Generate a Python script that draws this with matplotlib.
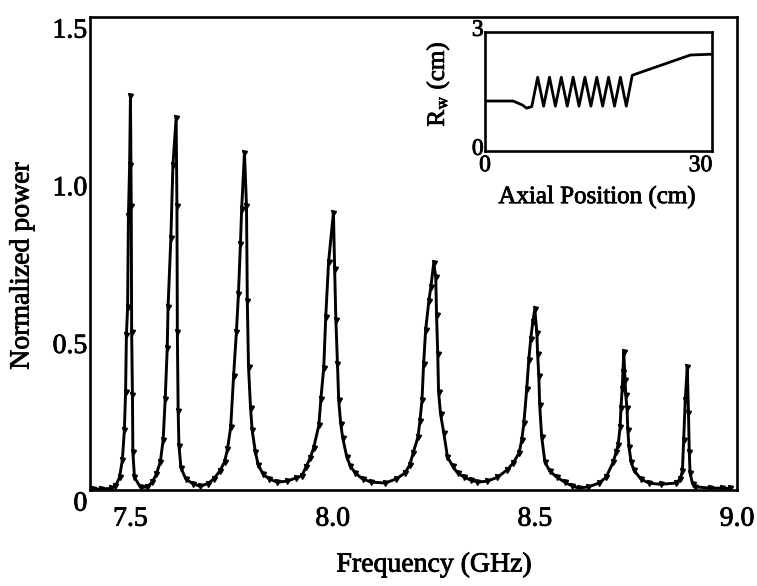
import matplotlib
matplotlib.use("Agg")
import matplotlib.pyplot as plt
import matplotlib.patheffects as pe
from matplotlib.transforms import ScaledTranslation

plt.rcParams["font.family"] = ["Liberation Serif", "DejaVu Serif"]
plt.rcParams["mathtext.fontset"] = "stix"

# main spectrum: frequency (GHz) vs normalized power
freq = [
    7.407, 7.426, 7.451, 7.463, 7.473, 7.480, 7.485, 7.488, 7.490, 7.493, 7.495, 7.498, 7.500,
    7.502, 7.503, 7.505, 7.506, 7.510, 7.525, 7.542, 7.554, 7.564, 7.574, 7.581, 7.586, 7.591,
    7.593, 7.600, 7.605, 7.613,
    7.615, 7.616, 7.618, 7.620, 7.625, 7.637, 7.654, 7.672, 7.691, 7.706, 7.721, 7.733, 7.740,
    7.748, 7.755, 7.762, 7.767, 7.772, 7.775, 7.782,
    7.787, 7.789, 7.792, 7.797, 7.801, 7.809, 7.816, 7.828, 7.843, 7.863, 7.887, 7.909, 7.924,
    7.934, 7.944, 7.953, 7.966, 7.971, 7.978, 7.983, 7.990, 8.002,
    8.005, 8.008, 8.012, 8.015, 8.020, 8.025, 8.035, 8.044, 8.056, 8.074, 8.096, 8.130, 8.157,
    8.179, 8.191, 8.199, 8.211, 8.216, 8.221, 8.225, 8.230, 8.238, 8.243, 8.250,
    8.255, 8.257, 8.260, 8.262, 8.267, 8.275, 8.284, 8.297, 8.309, 8.326, 8.341, 8.358, 8.382,
    8.407, 8.431, 8.446, 8.461, 8.468, 8.473, 8.480, 8.485, 8.490, 8.495, 8.500,
    8.505, 8.507, 8.510, 8.512, 8.517, 8.525, 8.537, 8.554, 8.574, 8.593, 8.610, 8.632, 8.659,
    8.676, 8.694, 8.701, 8.706, 8.711, 8.713, 8.716, 8.718, 8.720,
    8.723, 8.725, 8.728, 8.730, 8.733, 8.738, 8.745, 8.762, 8.782, 8.811, 8.848, 8.860, 8.865,
    8.868, 8.872, 8.877,
    8.880, 8.882, 8.884, 8.890, 8.897, 8.934, 8.963, 8.983,
]
power = [
    0.003, 0.003, 0.005, 0.012, 0.04, 0.095, 0.19, 0.31, 0.49, 0.58, 0.87, 1.03, 1.25,
    0.9, 0.5, 0.3, 0.12, 0.04, 0.008, 0.01, 0.025, 0.05, 0.09, 0.16, 0.29, 0.45,
    0.58, 0.8, 1.03, 1.18,
    0.9, 0.5, 0.25, 0.14, 0.07, 0.035, 0.02, 0.012, 0.02, 0.035, 0.06, 0.09, 0.13,
    0.2, 0.36, 0.5, 0.62, 0.78, 0.89, 1.07,
    0.9, 0.6, 0.39, 0.26, 0.19, 0.12, 0.08, 0.05, 0.035, 0.025, 0.028, 0.038, 0.045,
    0.073, 0.1, 0.133, 0.206, 0.29, 0.387, 0.55, 0.723, 0.88,
    0.7, 0.54, 0.4, 0.285, 0.21, 0.165, 0.105, 0.075, 0.054, 0.035, 0.025, 0.022, 0.035,
    0.054, 0.08, 0.117, 0.168, 0.22, 0.285, 0.4, 0.507, 0.6, 0.644, 0.72,
    0.676, 0.555, 0.43, 0.311, 0.24, 0.18, 0.105, 0.075, 0.054, 0.04, 0.032, 0.025, 0.028,
    0.04, 0.063, 0.085, 0.117, 0.16, 0.213, 0.32, 0.412, 0.48, 0.533, 0.574,
    0.498, 0.43, 0.36, 0.27, 0.168, 0.089, 0.06, 0.041, 0.025, 0.012, 0.006, 0.01, 0.022,
    0.04, 0.089, 0.12, 0.143, 0.2, 0.26, 0.32, 0.374, 0.438,
    0.35, 0.3, 0.26, 0.19, 0.136, 0.09, 0.063, 0.035, 0.022, 0.018, 0.022, 0.035, 0.06,
    0.159, 0.285, 0.39,
    0.244, 0.12, 0.054, 0.02, 0.01, 0.006, 0.006, 0.005,
]
x_ticks = [7.5, 8.0, 8.5, 9.0]
x_ticklabels = ["7.5", "8.0", "8.5", "9.0"]
y_ticks = [0, 0.5, 1.0, 1.5]
y_ticklabels = ["0", "0.5", "1.0", "1.5"]

# inset: wall radius profile along the axis
axial = [0, 3.9, 5.2, 5.8, 6.51, 7.33, 8.16, 8.98, 9.80, 10.62, 11.45, 12.27, 13.09,
         13.91, 14.74, 15.56, 16.38, 17.20, 18.03, 18.85, 19.67, 20.5, 21.3, 28.6, 31.6]
radius = [1.26, 1.26, 1.16, 1.08, 1.12, 1.86, 1.13, 1.86, 1.13, 1.86, 1.13, 1.86, 1.13,
          1.86, 1.13, 1.86, 1.13, 1.86, 1.13, 1.86, 1.13, 1.91, 1.96, 2.42, 2.44]

INK = [pe.withStroke(linewidth=0.6, foreground="black")]

W, H = 757, 586
fig = plt.figure(figsize=(W / 100, H / 100), dpi=100)
fig.patch.set_facecolor("white")

ax = fig.add_axes([90 / W, 1 - 490 / H, 647 / W, 473 / H])
ax.plot(freq, power, color="black", lw=2.1, marker="v", ms=3.6,
        solid_joinstyle="round")
ax.set_xlim(7.4, 9.0)
ax.set_ylim(0, 1.5)
ax.set_xticks(x_ticks, x_ticklabels)
ax.set_yticks(y_ticks, y_ticklabels)
ax.tick_params(length=0, labelsize=20)
ax.tick_params(axis="x", pad=12)
ax.tick_params(axis="y", pad=2)
for lab in ax.get_yticklabels():
    lab.set_transform(lab.get_transform() + ScaledTranslation(0, -8 / 72, fig.dpi_scale_trans))
for lab in ax.get_xticklabels() + ax.get_yticklabels():
    lab.set_path_effects(INK)
for sp in ax.spines.values():
    sp.set_linewidth(1.9)

fig.text(434 / W, 1 - 565 / H, "Frequency (GHz)", ha="center", va="center", fontsize=20,
         path_effects=INK)
fig.text(22 / W, 1 - 266 / H, "Normalized power", ha="center", va="center",
         rotation=90, fontsize=20, path_effects=INK)

ins = fig.add_axes([485 / W, 1 - 151 / H, 227 / W, 119 / H])
ins.plot(axial, radius, color="black", lw=2.0, solid_joinstyle="round")
ins.set_xlim(0, 31.6)
ins.set_ylim(0, 3)
ins.set_xticks([0, 30], ["0", "30"])
ins.set_yticks([0, 3], ["0", "3"])
ins.tick_params(length=0, labelsize=17)
ins.tick_params(axis="x", pad=3)
ins.tick_params(axis="y", pad=1)
for lab in ins.get_yticklabels():
    lab.set_transform(lab.get_transform() + ScaledTranslation(0, 3 / 72, fig.dpi_scale_trans))
for lab in ins.get_xticklabels() + ins.get_yticklabels():
    lab.set_path_effects(INK)
for sp in ins.spines.values():
    sp.set_linewidth(1.9)
fig.text(597 / W, 1 - 197 / H, "Axial Position (cm)", ha="center", va="center", fontsize=18,
         path_effects=INK)
fig.text(438 / W, 1 - 84 / H, r"R$_{\mathrm{w}}$ (cm)", ha="center", va="center",
         rotation=90, fontsize=18, path_effects=INK)

fig.savefig("out.png", dpi=100, facecolor="white")
